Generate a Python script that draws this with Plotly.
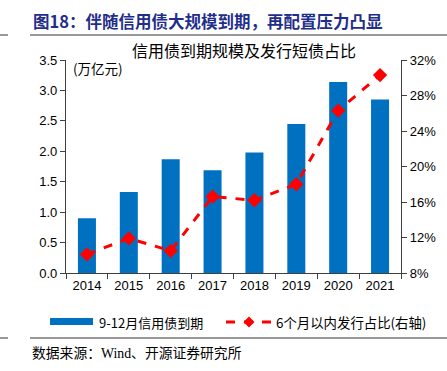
import plotly.graph_objects as go

years = ["2014", "2015", "2016", "2017", "2018", "2019", "2020", "2021"]
maturity = [0.90, 1.33, 1.87, 1.69, 1.98, 2.45, 3.14, 2.85]
short_share = [10.1, 11.9, 10.5, 16.6, 16.2, 18.0, 26.3, 30.3]

W, H = 447, 371
L, R, T, B = 66, 401, 60, 273

def px(x):
    return (x - L) / (R - L)

def py(y):
    return (B - y) / (B - T)

blue = "#0070C0"
red = "#FF0000"
font_sans = "Liberation Sans, Arial, Noto Sans CJK SC"
font_cjk = "Noto Sans CJK SC, Liberation Sans"

fig = go.Figure()
fig.add_trace(go.Bar(
    x=years, y=maturity, marker=dict(color=blue, line=dict(width=0)),
    name="9-12月信用债到期", yaxis="y", showlegend=False,
))
fig.add_trace(go.Scatter(
    x=years, y=short_share, yaxis="y2", mode="lines+markers",
    line=dict(color=red, width=3, dash="dash"),
    marker=dict(symbol="diamond", size=11, color=red),
    name="6个月以内发行占比(右轴)", showlegend=False,
))

axis_common = dict(showgrid=False, zeroline=False, showline=True, linecolor="#404040",
                   linewidth=1.2, ticks="outside", ticklen=5, tickcolor="#404040",
                   tickfont=dict(family=font_sans, size=13, color="#000000"))

fig.update_layout(
    width=W, height=H,
    margin=dict(l=L, r=W - R, t=T, b=H - B, pad=0),
    paper_bgcolor="white", plot_bgcolor="white",
    bargap=0.57,
    xaxis=dict(type="category", range=[-0.5, 7.5], tickson="boundaries", **axis_common),
    yaxis=dict(range=[0, 3.5], dtick=0.5, tickformat=".1f", **axis_common),
    yaxis2=dict(range=[8, 32], dtick=4, ticksuffix="%", overlaying="y", side="right",
                **axis_common),
    showlegend=False,
)

cx, cy, d = 249, 322, 5.5
diamond = (f"M {px(cx)} {py(cy - d)} L {px(cx + d)} {py(cy)} "
           f"L {px(cx)} {py(cy + d)} L {px(cx - d)} {py(cy)} Z")

shapes = [
    dict(type="line", xref="paper", yref="paper", x0=px(30), x1=px(447), y0=py(35), y1=py(35),
         line=dict(color="#333333", width=1)),
    dict(type="line", xref="paper", yref="paper", x0=px(0), x1=px(8), y0=py(35), y1=py(35),
         line=dict(color="#333333", width=1)),
    dict(type="line", xref="paper", yref="paper", x0=px(30), x1=px(447), y0=py(338), y1=py(338),
         line=dict(color="#333333", width=1)),
    dict(type="line", xref="paper", yref="paper", x0=px(0), x1=px(8), y0=py(338), y1=py(338),
         line=dict(color="#333333", width=1)),
    dict(type="rect", xref="paper", yref="paper", x0=px(50), x1=px(93), y0=py(325), y1=py(318),
         fillcolor=blue, line=dict(width=0)),
    dict(type="line", xref="paper", yref="paper", x0=px(226), x1=px(272), y0=py(322), y1=py(322),
         line=dict(color=red, width=3, dash="dash")),
    dict(type="path", xref="paper", yref="paper", path=diamond, fillcolor=red,
         line=dict(width=0)),
]
fig.update_layout(shapes=shapes)

annotations = [
    dict(text="<b>图18：伴随信用债大规模到期，再配置压力凸显</b>", xref="paper", yref="paper",
         x=px(31), y=py(21), xanchor="left", yanchor="middle", showarrow=False,
         font=dict(family="Noto Sans CJK SC", size=16.5, color="#1F2E8A")),
    dict(text="信用债到期规模及发行短债占比", xref="paper", yref="paper",
         x=px(244), y=py(50), xanchor="center", yanchor="middle", showarrow=False,
         font=dict(family=font_cjk, size=16, color="#000000")),
    dict(text="(万亿元)", xref="paper", yref="paper",
         x=px(71), y=py(68), xanchor="left", yanchor="middle", showarrow=False,
         font=dict(family=font_cjk, size=13.5, color="#000000")),
    dict(text="9-12月信用债到期", xref="paper", yref="paper",
         x=px(97), y=py(322), xanchor="left", yanchor="middle", showarrow=False,
         font=dict(family=font_cjk, size=13, color="#000000")),
    dict(text="6个月以内发行占比(右轴)", xref="paper", yref="paper",
         x=px(274), y=py(322), xanchor="left", yanchor="middle", showarrow=False,
         font=dict(family=font_cjk, size=13.4, color="#000000")),
    dict(text="数据来源：Wind、开源证券研究所", xref="paper", yref="paper",
         x=px(30), y=py(353), xanchor="left", yanchor="middle", showarrow=False,
         font=dict(family="Liberation Serif, Noto Sans CJK SC", size=13.8, color="#000000")),
]
fig.update_layout(annotations=annotations)

fig.write_html("out.html", config={"displayModeBar": False},
               post_script="document.body.style.margin='0';")
